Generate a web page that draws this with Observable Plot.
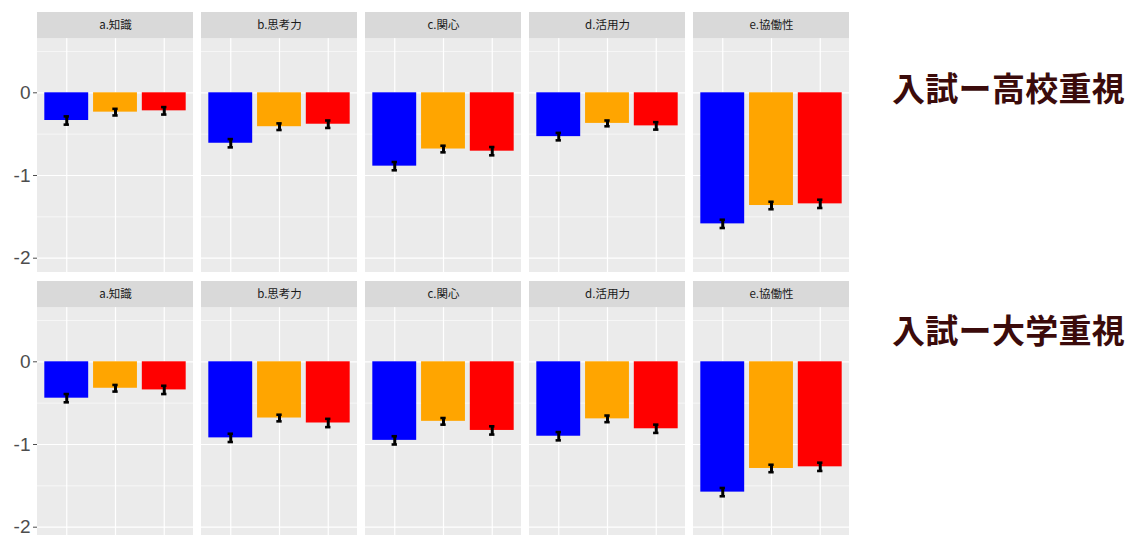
<!DOCTYPE html>
<html>
<head>
<meta charset="utf-8">
<script src="https://cdn.jsdelivr.net/npm/d3@7"></script>
<script src="https://cdn.jsdelivr.net/npm/@observablehq/plot@0.6"></script>
<style>
  html, body { margin: 0; padding: 0; background: #ffffff; overflow: hidden; }
  #wrap { position: relative; width: 1131px; height: 535px; overflow: hidden; }
  .rowtitle { position: absolute; left: 892px; font-family: "Noto Sans CJK JP", "Noto Sans", sans-serif; font-weight: 700; font-size: 33px; line-height: 36px; color: #3b0b0b; white-space: nowrap; letter-spacing: 0.3px; }
</style>
</head>
<body>
<div id="wrap"></div>
<script>
// ---- data ----
const categories = ["a.知識", "b.思考力", "c.関心", "d.活用力", "e.協働性"];
const rows = ["入試ー高校重視", "入試ー大学重視"];
const groups = ["群1", "群2", "群3"];
const groupColors = ["#0000ff", "#ffa500", "#ff0000"];

// 入試ー高校重視
const high_g1 = [-0.335, -0.61, -0.887, -0.53, -1.585];
const high_g2 = [-0.234, -0.41, -0.68, -0.37, -1.363];
const high_g3 = [-0.218, -0.38, -0.706, -0.40, -1.343];
const high_se1 = [0.05, 0.05, 0.05, 0.045, 0.05];
const high_se2 = [0.04, 0.04, 0.04, 0.035, 0.045];
const high_se3 = [0.045, 0.045, 0.05, 0.045, 0.05];
// 入試ー大学重視
const univ_g1 = [-0.44, -0.92, -0.95, -0.90, -1.576];
const univ_g2 = [-0.32, -0.68, -0.72, -0.69, -1.29];
const univ_g3 = [-0.34, -0.74, -0.83, -0.81, -1.27];
const univ_se1 = [0.05, 0.05, 0.05, 0.05, 0.05];
const univ_se2 = [0.04, 0.04, 0.04, 0.04, 0.045];
const univ_se3 = [0.05, 0.05, 0.05, 0.05, 0.05];

const yTicks = [0, -1, -2];
const yMinor = [0.5, -0.5, -1.5];

// ---- build table ----
const seriesByRow = [
  [[high_g1, high_se1], [high_g2, high_se2], [high_g3, high_se3]],
  [[univ_g1, univ_se1], [univ_g2, univ_se2], [univ_g3, univ_se3]]
];
const table = [];
rows.forEach((row, r) => {
  seriesByRow[r].forEach(([vals, ses], g) => {
    categories.forEach((cat, c) => {
      table.push({row, cat, group: groups[g], i: g + 1, v: vals[c], se: ses[c]});
    });
  });
});
const strips = [];
rows.forEach(row => categories.forEach(cat => strips.push({row, cat})));

// panel limits (data units)
const xLo = 0.4, xHi = 3.6;
const yLo = -2.173, yPanelTop = 0.656, yStripTop = 0.971;
const xPositions = [1, 2, 3];

const chart = Plot.plot({
  width: 1131,
  height: 541,
  marginTop: 12,
  marginBottom: 0,
  marginLeft: 35,
  marginRight: 281,
  fx: {domain: categories, paddingInner: 0.0513, paddingOuter: 0, axis: null},
  fy: {domain: rows, paddingInner: 0.0335, paddingOuter: 0, axis: null},
  x: {domain: [xLo, xHi], axis: null},
  y: {domain: [yLo, yStripTop], axis: null, label: null},
  color: {domain: groups, range: groupColors},
  style: {fontFamily: "Liberation Sans, Arial, sans-serif", background: "transparent"},
  marks: [
    // panel background
    Plot.rect([0], {x1: () => xLo, x2: () => xHi, y1: () => yLo, y2: () => yPanelTop, fill: "#ebebeb"}),
    // minor grid
    Plot.ruleY(yMinor, {x1: () => xLo, x2: () => xHi, y: d => d, stroke: "#ffffff", strokeWidth: 0.6}),
    // major grid
    Plot.ruleY(yTicks, {x1: () => xLo, x2: () => xHi, y: d => d, stroke: "#ffffff", strokeWidth: 1.2}),
    Plot.ruleX(xPositions, {x: d => d, y1: () => yLo, y2: () => yPanelTop, stroke: "#ffffff", strokeWidth: 1.2}),
    // bars
    Plot.rect(table, {
      fx: "cat", fy: "row",
      x1: d => d.i - 0.45, x2: d => d.i + 0.45,
      y1: () => 0, y2: "v",
      fill: "group"
    }),
    // error bars
    Plot.ruleX(table, {fx: "cat", fy: "row", x: "i", y1: d => d.v - d.se, y2: d => d.v + d.se, stroke: "#000", strokeWidth: 3}),
    Plot.ruleY(table, {fx: "cat", fy: "row", x1: d => d.i - 0.055, x2: d => d.i + 0.055, y: d => d.v - d.se, stroke: "#000", strokeWidth: 2.6}),
    Plot.ruleY(table, {fx: "cat", fy: "row", x1: d => d.i - 0.055, x2: d => d.i + 0.055, y: d => d.v + d.se, stroke: "#000", strokeWidth: 2.6}),
    // strips
    Plot.rect([0], {x1: () => xLo, x2: () => xHi, y1: () => yPanelTop, y2: () => yStripTop, fill: "#d9d9d9"}),
    Plot.text(strips, {
      fx: "cat", fy: "row",
      x: () => (xLo + xHi) / 2, y: () => (yPanelTop + yStripTop) / 2,
      text: "cat", fontSize: 11.5, fill: "#1a1a1a",
      fontFamily: "Noto Sans CJK JP, Noto Sans, sans-serif"
    }),
    // y axis
    Plot.axisY(yTicks, {
      anchor: "left", label: null, tickSize: 4, tickPadding: 3, fontSize: 19,
      color: "#4d4d4d", stroke: "#4d4d4d", tickFormat: d => String(d).replace("−", "-"),
      fontFamily: "Liberation Sans, Arial, sans-serif"
    })
  ]
});

const wrap = document.getElementById("wrap");
wrap.appendChild(chart);

const titleTops = [69, 311];
rows.forEach((row, r) => {
  const div = document.createElement("div");
  div.className = "rowtitle";
  div.style.top = titleTops[r] + "px";
  div.textContent = row;
  wrap.appendChild(div);
});
</script>
</body>
</html>
